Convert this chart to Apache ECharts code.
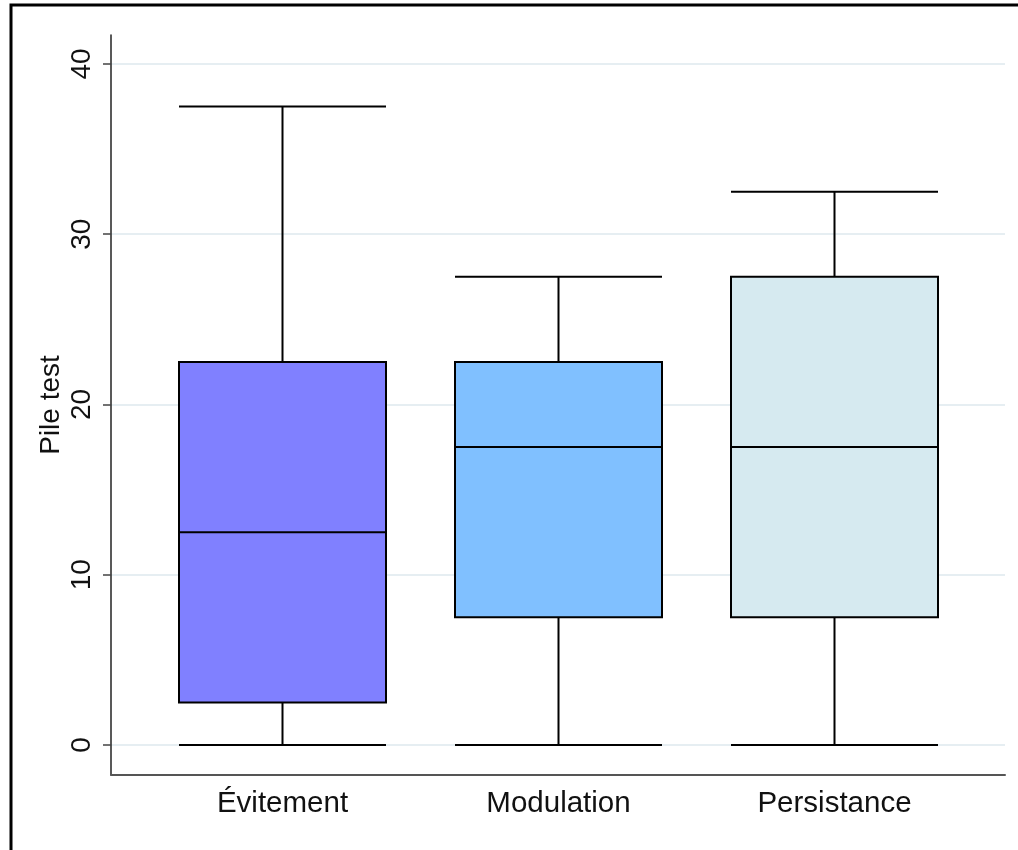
<!DOCTYPE html>
<html lang="fr">
<head>
    <meta charset="UTF-8">
    <title>Pile test</title>
    <script src="https://cdn.jsdelivr.net/npm/echarts@6/dist/echarts.min.js"></script>
</head>
<style type="text/css">
    body{
        margin:0;
        background:#fff;
    }
    .chart{
        width: 1018px;
        height: 850px;
    }
</style>
<body>
    <div class="chart"></div>
</body>
<script type="text/javascript">
var categories = ['Évitement', 'Modulation', 'Persistance'];
// [min, Q1, median, Q3, max]
var boxValues = [
    [0, 2.5, 12.5, 22.5, 37.5],
    [0, 7.5, 17.5, 22.5, 27.5],
    [0, 7.5, 17.5, 27.5, 32.5]
];
var boxColors = ['#8080ff', '#80c0ff', '#d6eaf0'];
var yTicks = [0, 10, 20, 30, 40];
var yName = 'Pile test';

var yMin = -1.76, yMax = 41.7;
var font = '"Liberation Sans", Arial, sans-serif';

var option = {
    animation: false,
    backgroundColor: '#fff',
    graphic: [{
        type: 'rect',
        shape: { x: 11, y: 5, width: 1200, height: 1000 },
        style: { fill: 'none', stroke: '#000', lineWidth: 3 },
        z: 100
    }],
    grid: [
        // boxes
        { left: 144.5, right: 45.5, top: 35, bottom: 75 },
        // axis frame
        { left: 111, right: 13, top: 35, bottom: 75 }
    ],
    xAxis: [{
        type: 'category',
        gridIndex: 0,
        data: categories,
        axisLine: { show: false, onZero: false },
        axisTick: { show: false },
        axisLabel: { color: '#111', fontSize: 29.5, fontFamily: font, margin: 14 },
        splitLine: { show: false }
    }, {
        type: 'value',
        gridIndex: 1,
        min: 0, max: 1,
        axisLine: { show: true, onZero: false, lineStyle: { color: '#555', width: 2 } },
        axisTick: { show: false },
        axisLabel: { show: false },
        splitLine: { show: false }
    }],
    yAxis: [{
        type: 'value',
        gridIndex: 0,
        min: yMin, max: yMax,
        show: false
    }, {
        type: 'value',
        gridIndex: 1,
        min: yMin, max: yMax,
        name: yName,
        nameLocation: 'middle',
        nameGap: 46,
        nameMoveOverlap: false,
        nameTextStyle: { color: '#111', fontSize: 28, fontFamily: font },
        axisLine: { show: true, onZero: false, lineStyle: { color: '#222', width: 1.5 } },
        axisTick: { show: true, length: 8, customValues: yTicks, lineStyle: { color: '#444', width: 1.5 } },
        axisLabel: {
            customValues: yTicks, rotate: 90, color: '#111',
            fontSize: 28, fontFamily: font, margin: 15
        },
        splitLine: { show: true, lineStyle: { color: '#e6eef2', width: 2 } }
    }],
    series: [{
        type: 'boxplot',
        xAxisIndex: 0,
        yAxisIndex: 0,
        boxWidth: [207, 207],
        z: 10,
        data: boxValues.map(function (v, i) {
            return {
                value: v,
                itemStyle: { color: boxColors[i], borderColor: '#000', borderWidth: 2 }
            };
        })
    }]
};

var chart = echarts.init(document.querySelector('.chart'));
chart.setOption(option);
</script>
</html>
